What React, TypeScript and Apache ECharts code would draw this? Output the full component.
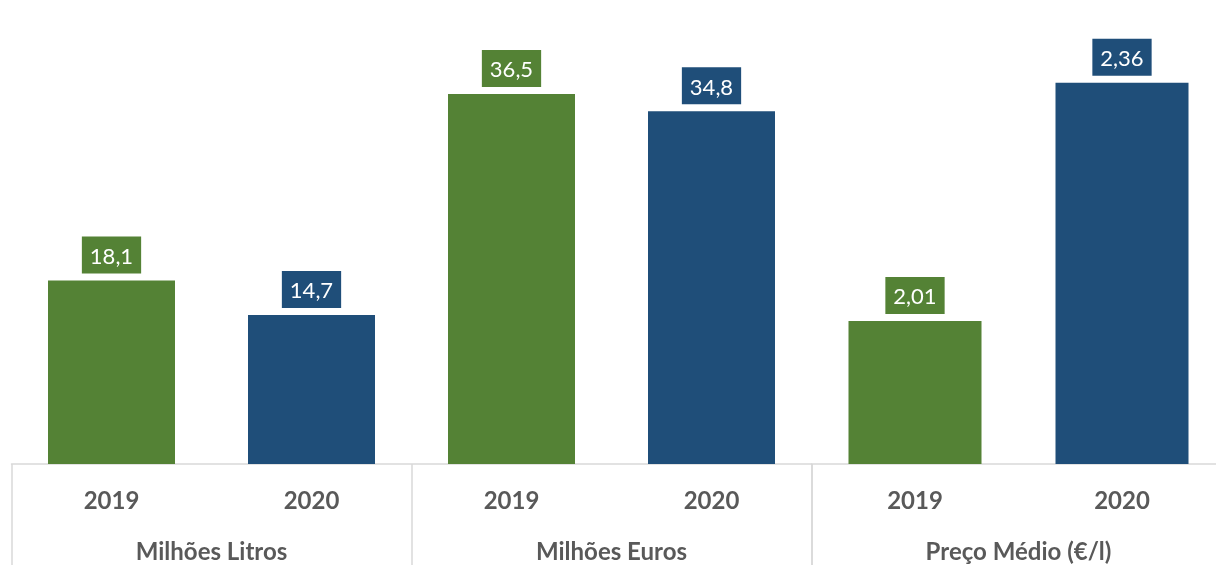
import React, { useEffect, useRef } from "react";
import * as echarts from "echarts";

const years = ["2019", "2020"];
const groupsLeft = ["Milhões Litros", "Milhões Euros"];
const groupsRight = ["Preço Médio (€/l)"];
const volume = [18.1, 14.7];
const valueEur = [36.5, 34.8];
const price = [2.01, 2.36];
const yearColors = ["#548235", "#1f4e79"];

const FONT = "Lato, 'Open Sans', sans-serif";
const GRAY = "#595959";
const LINE = "#d9d9d9";

function items(values: number[]) {
  return values.map((v, i) => {
    const c = yearColors[i % 2];
    return { value: v, itemStyle: { color: c }, label: { backgroundColor: c } };
  });
}

export default function App() {
  const ref = useRef<HTMLDivElement>(null);
  useEffect(() => {
    if (!ref.current) return;
    const chart = echarts.init(ref.current, null, { renderer: "svg" });
    const valueLabel = {
      show: true,
      position: "top",
      distance: 7,
      color: "#ffffff",
      fontFamily: FONT,
      fontSize: 22,
      padding: [8, 8, 7, 8],
      formatter: (p: any) => String(p.value).replace(".", ","),
    };
    const yearAxisCommon = {
      type: "category",
      axisLine: { show: false },
      axisTick: { show: false },
      axisLabel: { color: GRAY, fontFamily: FONT, fontSize: 24, fontWeight: "bold", margin: 23 },
    };
    const groupAxisCommon = {
      type: "category",
      position: "bottom",
      axisLine: { show: true, lineStyle: { color: LINE, width: 1.5 } },
      axisTick: { show: true, interval: 0, length: 101, lineStyle: { color: LINE, width: 1.5 } },
      axisLabel: { color: GRAY, fontFamily: FONT, fontSize: 24, fontWeight: "bold", margin: 74, interval: 0 },
    };
    chart.setOption({
      animation: false,
      grid: [
        { left: 11.5, width: 800, top: 58.4, height: 405.6, outerBoundsMode: "none", containLabel: false },
        { left: 811.5, width: 414, top: 55.4, height: 408.6, outerBoundsMode: "none", containLabel: false },
      ],
      xAxis: [
        { ...yearAxisCommon, gridIndex: 0, data: years.concat(years) },
        { ...yearAxisCommon, gridIndex: 1, data: years },
        { ...groupAxisCommon, gridIndex: 0, data: groupsLeft },
        { ...groupAxisCommon, gridIndex: 1, data: groupsRight },
      ],
      yAxis: [
        { type: "value", gridIndex: 0, min: 0, max: 40, show: false, splitLine: { show: false } },
        { type: "value", gridIndex: 1, min: 1.8, max: 2.4, show: false, splitLine: { show: false } },
      ],
      series: [
        {
          type: "bar",
          xAxisIndex: 0,
          yAxisIndex: 0,
          barWidth: 127,
          data: items(volume.concat(valueEur)),
          label: valueLabel,
        },
        {
          type: "bar",
          xAxisIndex: 1,
          yAxisIndex: 1,
          barWidth: 133,
          data: items(price),
          label: valueLabel,
        },
      ],
    });
    return () => chart.dispose();
  }, []);
  return (
    <div
      ref={ref}
      style={{ position: "fixed", left: 0, top: 0, width: 1216, height: 565 }}
    />
  );
}
